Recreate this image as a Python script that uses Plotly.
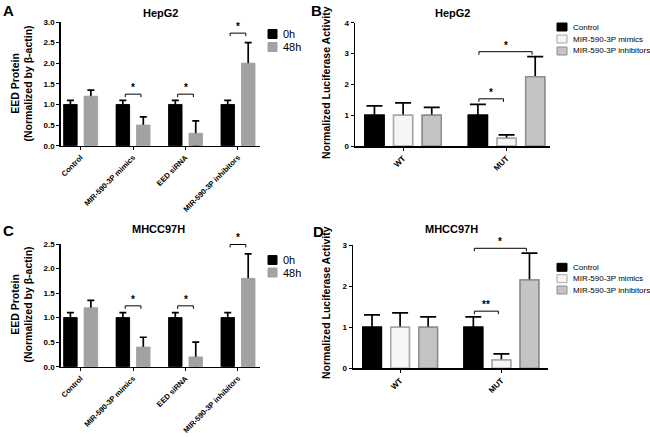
import plotly.graph_objects as go

W, H = 650, 437

# ---------------- data ----------------
protein_categories = ["Control", "MIR-590-3P mimics", "EED siRNA", "MIR-590-3P inhibitors"]
hepg2_0h = [1.0, 1.0, 1.0, 1.0]
hepg2_0h_err = [0.1, 0.1, 0.1, 0.1]
hepg2_48h = [1.2, 0.5, 0.3, 2.0]
hepg2_48h_err = [0.15, 0.2, 0.3, 0.5]
mhcc_0h = [1.0, 1.0, 1.0, 1.0]
mhcc_0h_err = [0.1, 0.1, 0.1, 0.1]
mhcc_48h = [1.2, 0.4, 0.2, 1.8]
mhcc_48h_err = [0.15, 0.2, 0.3, 0.5]

luc_categories = ["WT", "MUT"]
hepg2_luc_control = [1.0, 1.0]
hepg2_luc_control_err = [0.3, 0.35]
hepg2_luc_mimics = [1.0, 0.25]
hepg2_luc_mimics_err = [0.4, 0.11]
hepg2_luc_inhib = [1.0, 2.25]
hepg2_luc_inhib_err = [0.25, 0.65]
mhcc_luc_control = [1.0, 1.0]
mhcc_luc_control_err = [0.3, 0.25]
mhcc_luc_mimics = [1.0, 0.2]
mhcc_luc_mimics_err = [0.35, 0.15]
mhcc_luc_inhib = [1.0, 2.15]
mhcc_luc_inhib_err = [0.25, 0.65]

# significance brackets: (category index, left bar, right bar, y, label)
sig_A = [(1, 0, 1, 1.25, "*"), (2, 0, 1, 1.25, "*"), (3, 0, 1, 2.73, "*")]
sig_C = [(1, 0, 1, 1.24, "*"), (2, 0, 1, 1.24, "*"), (3, 0, 1, 2.49, "*")]
sig_B = [(1, 0, 1, 1.53, "*"), (1, 0, 2, 3.06, "*")]
sig_D = [(1, 0, 1, 1.39, "**"), (1, 0, 2, 2.92, "*")]

# ---------------- style ----------------
FONT = "Arial, Liberation Sans, sans-serif"
C_0H = "#000000"
C_48H = "#a2a2a2"
C_CTRL = "#000000"
C_MIM_FILL, C_MIM_LINE = "#f6f6f6", "#a8a8a8"
C_INH_FILL, C_INH_LINE = "#c4c4c4", "#8e8e8e"


def px_x(p):
    return p / W


def px_y(p):
    return 1 - p / H


fig = go.Figure()

# panel geometry in pixels: (x0, x1, ytop, ybottom)
panels = {
    "A": dict(x=(60.7, 260), y=(22, 145.7), xa="x", ya="y", xrange=[-0.38, 3.42], yrange=[0, 3], dtick=0.5, fmt=".1f", xfs=7.5),
    "B": dict(x=(355, 550), y=(22.7, 146), xa="x2", ya="y2", xrange=[-0.465, 1.42], yrange=[0, 4], dtick=1, fmt="d", xfs=8),
    "C": dict(x=(60.7, 260), y=(244, 366.7), xa="x3", ya="y3", xrange=[-0.38, 3.42], yrange=[0, 2.5], dtick=0.5, fmt=".1f", xfs=7.5),
    "D": dict(x=(353, 548), y=(245, 368.3), xa="x4", ya="y4", xrange=[-0.465, 1.46], yrange=[0, 3], dtick=1, fmt="d", xfs=8),
}

# bar geometry (category units)
PW, POFF = 0.257, [-0.195, 0.195]          # protein panels, 2 bars
LW, LOFF = 0.184, [-0.277, 0.0, 0.277]     # luciferase panels, 3 bars


def add_bars(cats, vals, errs, xa, ya, width, center, fill, line, lw, capw):
    off = center - width / 2
    # bar with full error bar (lower half hidden by the overlay bar)
    fig.add_trace(go.Bar(
        x=cats, y=vals, xaxis=xa, yaxis=ya, width=width, offset=off,
        marker=dict(color=fill, line=dict(color=line, width=lw)),
        error_y=dict(type="data", array=errs, symmetric=True, color="#000000",
                     thickness=1.7, width=capw),
        showlegend=False, hoverinfo="skip"))
    fig.add_trace(go.Bar(
        x=cats, y=vals, xaxis=xa, yaxis=ya, width=width, offset=off,
        marker=dict(color=fill, line=dict(color=line, width=lw)),
        showlegend=False))


# Panel A / C
for key, v0, e0, v48, e48 in [("A", hepg2_0h, hepg2_0h_err, hepg2_48h, hepg2_48h_err),
                               ("C", mhcc_0h, mhcc_0h_err, mhcc_48h, mhcc_48h_err)]:
    p = panels[key]
    add_bars(protein_categories, v0, e0, p["xa"], p["ya"], PW, POFF[0], C_0H, C_0H, 0.5, 3.5)
    add_bars(protein_categories, v48, e48, p["xa"], p["ya"], PW, POFF[1], C_48H, C_48H, 0.5, 3.5)

# Panel B / D
for key, series in [("B", [(hepg2_luc_control, hepg2_luc_control_err), (hepg2_luc_mimics, hepg2_luc_mimics_err),
                           (hepg2_luc_inhib, hepg2_luc_inhib_err)]),
                    ("D", [(mhcc_luc_control, mhcc_luc_control_err), (mhcc_luc_mimics, mhcc_luc_mimics_err),
                           (mhcc_luc_inhib, mhcc_luc_inhib_err)])]:
    p = panels[key]
    styles = [(C_CTRL, C_CTRL), (C_MIM_FILL, C_MIM_LINE), (C_INH_FILL, C_INH_LINE)]
    for (vals, errs), (fill, line), c in zip(series, styles, LOFF):
        add_bars(luc_categories, vals, errs, p["xa"], p["ya"], LW, c, fill, line, 1.5, 8)

layout = dict(
    width=W, height=H, margin=dict(l=0, r=0, t=0, b=0, autoexpand=False),
    paper_bgcolor="white", plot_bgcolor="white",
    font=dict(family=FONT, color="#000000"),
    showlegend=False, barmode="group",
)

shapes, annotations = [], []
for i, (key, p) in enumerate(panels.items()):
    sfx = "" if i == 0 else str(i + 1)
    layout["xaxis" + sfx] = dict(
        domain=[px_x(p["x"][0]), px_x(p["x"][1])], anchor=p["ya"], type="category",
        range=p["xrange"], showline=True, linecolor="#000", linewidth=1.5, automargin=False,
        ticks="outside", ticklen=3, tickwidth=1, tickcolor="#000", tickangle=-45,
        tickfont=dict(size=p["xfs"], family=FONT, weight="bold"), showgrid=False, zeroline=False, fixedrange=True)
    layout["yaxis" + sfx] = dict(
        domain=[px_y(p["y"][1]), px_y(p["y"][0])], anchor=p["xa"], range=p["yrange"],
        dtick=p["dtick"], tickformat=p["fmt"], showline=True, linecolor="#000", linewidth=1.5,
        automargin=False, ticks="outside", ticklen=3, tickwidth=1, tickcolor="#000",
        tickfont=dict(size=8, family=FONT, weight="bold"), showgrid=False, zeroline=False, fixedrange=True)

# significance brackets
for key, sigs, offs, tickpx in [("A", sig_A, POFF, 3), ("C", sig_C, POFF, 3), ("B", sig_B, LOFF, 3), ("D", sig_D, LOFF, 3)]:
    p = panels[key]
    ppu = (p["y"][1] - p["y"][0]) / (p["yrange"][1] - p["yrange"][0])
    tk = tickpx / ppu
    for cat, b0, b1, yv, lab in sigs:
        if offs is POFF:
            x0, x1 = cat - 0.15, cat + 0.15
        else:
            x0, x1 = cat + offs[b0] + 0.01, cat + offs[b1] - 0.03
        common = dict(type="line", xref=p["xa"], yref=p["ya"], line=dict(color="#000", width=1))
        shapes.append(dict(common, x0=x0, x1=x1, y0=yv, y1=yv))
        shapes.append(dict(common, x0=x0, x1=x0, y0=yv, y1=yv - tk))
        shapes.append(dict(common, x0=x1, x1=x1, y0=yv, y1=yv - tk))
        annotations.append(dict(x=(x0 + x1) / 2, y=yv, xref=p["xa"], yref=p["ya"], text=lab,
                                showarrow=False, yanchor="bottom", yshift=-1,
                                font=dict(size=10, family=FONT, weight="bold", color="#000")))

# titles, panel letters, axis titles
for text, x, y in [("HepG2", 160, 13), ("HepG2", 452, 13), ("MHCC97H", 158, 229), ("MHCC97H", 451, 229)]:
    annotations.append(dict(x=px_x(x), y=px_y(y), xref="paper", yref="paper", text=text, showarrow=False,
                            xanchor="center", yanchor="middle", font=dict(size=11, family=FONT, weight="bold")))
for text, x, y in [("A", 8, 10), ("B", 316, 10), ("C", 8, 230), ("D", 318, 232)]:
    annotations.append(dict(x=px_x(x), y=px_y(y), xref="paper", yref="paper", text=text, showarrow=False,
                            xanchor="center", yanchor="middle", font=dict(size=15, family=FONT, weight="bold")))
for text, x, y in [("EED Protein<br>(Normalized by β-actin)", 21.5, 84),
                   ("EED Protein<br>(Normalized by β-actin)", 21.5, 305),
                   ("Normalized Luciferase Activity", 326, 82),
                   ("Normalized Luciferase Activity", 326, 302)]:
    annotations.append(dict(x=px_x(x), y=px_y(y), xref="paper", yref="paper", text=text, showarrow=False,
                            textangle=-90, xanchor="center", yanchor="middle",
                            font=dict(size=10.5, family=FONT, weight="bold")))

# legends (drawn as layout shapes + text)
legend_sets = [
    (268, 277, [34, 47], ["0h", "48h"], [(C_0H, C_0H), (C_48H, C_48H)], 11, 9),
    (268, 277, [260, 272.5], ["0h", "48h"], [(C_0H, C_0H), (C_48H, C_48H)], 11, 9),
    (557, 567, [27, 39, 51], ["Control", "MIR-590-3P mimics", "MIR-590-3P inhibitors"],
     [(C_CTRL, C_CTRL), (C_MIM_FILL, C_MIM_LINE), (C_INH_FILL, C_INH_LINE)], 8, 8),
    (557, 567, [267.3, 278.7, 290], ["Control", "MIR-590-3P mimics", "MIR-590-3P inhibitors"],
     [(C_CTRL, C_CTRL), (C_MIM_FILL, C_MIM_LINE), (C_INH_FILL, C_INH_LINE)], 8, 8),
]
for x0, x1, ys, labels, cols, fs, sq in legend_sets:
    for yc, lab, (fill, line) in zip(ys, labels, cols):
        shapes.append(dict(type="rect", xref="paper", yref="paper", x0=px_x(x0), x1=px_x(x1),
                           y0=px_y(yc + sq / 2), y1=px_y(yc - sq / 2), fillcolor=fill,
                           line=dict(color=line, width=1)))
        annotations.append(dict(x=px_x(x1 + 4), y=px_y(yc), xref="paper", yref="paper", text=lab,
                                showarrow=False, xanchor="left", yanchor="middle",
                                font=dict(size=fs, family=FONT, color="#000")))

layout["shapes"] = shapes
layout["annotations"] = annotations
fig.update_layout(**layout)
fig.write_html("out.html",
               config={"displayModeBar": False, "staticPlot": True},
               post_script="document.body.style.margin='0';document.body.style.padding='0';"
                           "document.body.style.overflow='hidden';")
